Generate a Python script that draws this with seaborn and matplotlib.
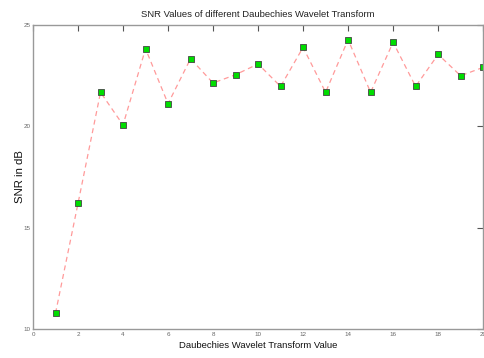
import matplotlib
matplotlib.use("Agg")
import matplotlib.pyplot as plt
import seaborn as sns
import pandas as pd

# Daubechies wavelet order and the resulting SNR (dB)
wavelet_order = [1, 2, 3, 4, 5, 6, 7, 8, 9, 10, 11, 12, 13, 14, 15, 16, 17, 18, 19, 20]
snr_db = [10.78, 16.20, 21.68, 20.07, 23.83, 21.12, 23.34, 22.14, 22.55, 23.08,
          21.97, 23.90, 21.68, 24.28, 21.68, 24.15, 21.97, 23.55, 22.50, 22.91]

x_ticks = [0, 2, 4, 6, 8, 10, 12, 14, 16, 18, 20]
y_ticks = [10, 15, 20, 25]

df = pd.DataFrame({"order": wavelet_order, "snr": snr_db})

sns.set_style("white")
plt.rcParams["font.family"] = ["Liberation Sans", "DejaVu Sans"]

fig = plt.figure(figsize=(4.84, 3.58), dpi=100)
ax = fig.add_axes([0.0682, 0.081, 0.930, 0.849])

sns.lineplot(data=df, x="order", y="snr", ax=ax, color="#ff9a9a",
             linestyle=(0, (4, 3)), linewidth=0.9, marker="s", markersize=4.3,
             markerfacecolor="#00dd00", markeredgecolor="#444444",
             markeredgewidth=0.6)

ax.set_xlim(0, 20)
ax.set_ylim(10, 25)
ax.set_xticks(x_ticks)
ax.set_yticks(y_ticks)
ax.tick_params(direction="in", length=4, width=0.8, color="#555555",
               labelsize=4.5, labelcolor="#666666", top=True, right=True,
               pad=2)
for s in ax.spines.values():
    s.set_color("#999999")
    s.set_linewidth(1.0)

ax.set_title("SNR Values of different Daubechies Wavelet Transform",
             fontsize=6.8, color="#222222", pad=5.5)
ax.set_xlabel("Daubechies Wavelet Transform Value", fontsize=6.8,
              color="#111111", labelpad=3)
ax.set_ylabel("SNR in dB", fontsize=8.2, color="#111111", labelpad=-1.5)

fig.savefig("out.png", dpi=100)
